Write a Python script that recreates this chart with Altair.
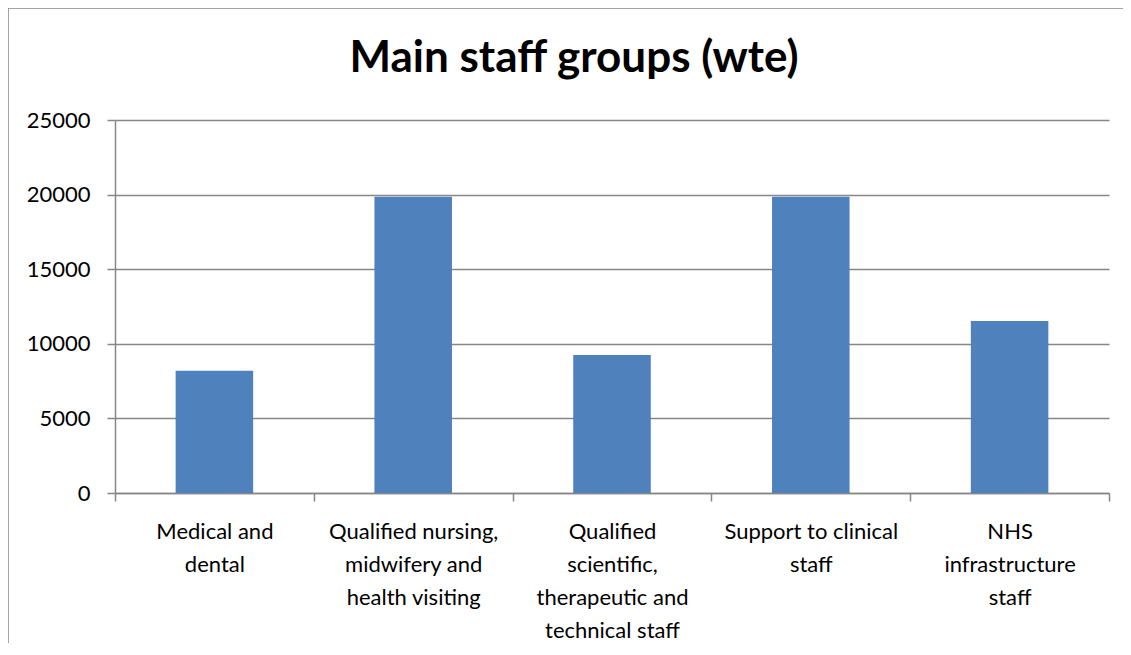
import altair as alt
import pandas as pd
import json

categories = [
    "Medical and dental",
    "Qualified nursing, midwifery and health visiting",
    "Qualified scientific, therapeutic and technical staff",
    "Support to clinical staff",
    "NHS infrastructure staff",
]
label_lines = [
    ["Medical and", "dental"],
    ["Qualified nursing,", "midwifery and", "health visiting"],
    ["Qualified", "scientific,", "therapeutic and", "technical staff"],
    ["Support to clinical", "staff"],
    ["NHS", "infrastructure", "staff"],
]
values = [8200, 19850, 9250, 19850, 11530]
y_ticks = [0, 5000, 10000, 15000, 20000, 25000]

df = pd.DataFrame({"group": categories, "wte": values})
label_map = json.dumps(dict(zip(categories, label_lines)))

FONT = "Lato"
GREY = "#878787"

bars = alt.Chart(df).mark_bar(
    color="#4F81BD", width=alt.RelativeBandSize(0.39)
).encode(
    x=alt.X(
        "group:N",
        sort=categories,
        scale=alt.Scale(paddingInner=0, paddingOuter=0),
        axis=alt.Axis(
            title=None,
            labelAngle=0,
            tickBand="extent",
            labelExpr=label_map + "[datum.label]",
            labelFontSize=22,
            labelLineHeight=33,
            labelPadding=20,
            labelColor="black",
            labelFont=FONT,
            tickSize=8,
            tickColor=GREY,
            domainColor=GREY,
            domainWidth=1.5,
            tickWidth=1.5,
            grid=False,
        ),
    ),
    y=alt.Y(
        "wte:Q",
        scale=alt.Scale(domain=[0, 25000], nice=False),
        axis=alt.Axis(
            title=None,
            values=y_ticks,
            format="d",
            labelFontSize=22,
            labelColor="black",
            labelFont=FONT,
            labelPadding=17,
            tickSize=8,
            tickColor=GREY,
            domainColor=GREY,
            domainWidth=1.5,
            tickWidth=1.5,
            grid=True,
            gridColor=GREY,
            gridWidth=1.5,
        ),
    ),
)

border = alt.Chart(alt.Data(values=[{"b": 1}])).mark_rect(
    fillOpacity=0, stroke=GREY, strokeWidth=1.5, clip=False
).encode(
    x=alt.value(-107), x2=alt.value(1030), y=alt.value(-112), y2=alt.value(600)
)

chart = alt.layer(border, bars).properties(
    width=994,
    height=373,
    title=alt.TitleParams(
        "Main staff groups (wte)",
        font=FONT,
        fontSize=44,
        fontWeight="bold",
        color="black",
        anchor="middle",
        frame="group",
        baseline="alphabetic",
        dx=-38,
        offset=-109,
    ),
    autosize=alt.AutoSizeParams(type="none"),
    padding={"left": 107, "top": 112, "right": 14, "bottom": 150},
).configure_view(stroke=None)

chart.save("out.html", embed_options={"renderer": "svg", "actions": False})
